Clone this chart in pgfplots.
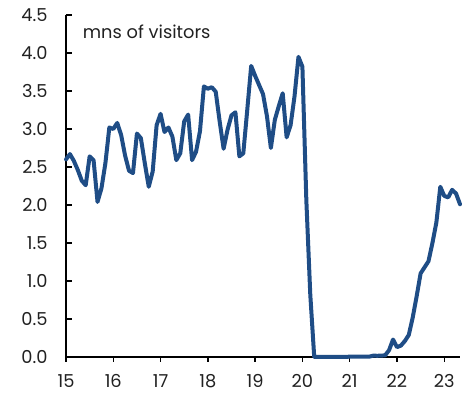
\documentclass[border=0pt]{standalone}
\usepackage{fontspec}
\setmainfont{Poppins}
\usepackage{pgfplots}
\usepackage{pgfplotstable}
\pgfplotsset{compat=1.18}

\definecolor{lineblue}{RGB}{31,77,134}

% Monthly visitor arrivals, millions; m = months since Jan 2015
\pgfplotstableread{
m y
0 2.60
1 2.67
2 2.58
3 2.46
4 2.32
5 2.26
6 2.64
7 2.59
8 2.04
9 2.22
10 2.55
11 3.02
12 3.00
13 3.08
14 2.92
15 2.65
16 2.45
17 2.42
18 2.94
19 2.88
20 2.55
21 2.24
22 2.44
23 3.05
24 3.20
25 2.96
26 3.02
27 2.90
28 2.59
29 2.68
30 3.10
31 3.19
32 2.59
33 2.70
34 2.97
35 3.56
36 3.53
37 3.55
38 3.49
39 3.10
40 2.74
41 2.99
42 3.18
43 3.22
44 2.64
45 2.68
46 3.25
47 3.83
48 3.70
49 3.58
50 3.46
51 3.17
52 2.75
53 3.12
54 3.30
55 3.47
56 2.89
57 3.05
58 3.43
59 3.95
60 3.82
61 2.06
62 0.82
63 0.00
64 0.00
65 0.00
66 0.00
67 0.00
68 0.00
69 0.00
70 0.00
71 0.00
72 0.005
73 0.005
74 0.005
75 0.005
76 0.005
77 0.005
78 0.018
79 0.016
80 0.018
81 0.022
82 0.09
83 0.23
84 0.13
85 0.15
86 0.21
87 0.29
88 0.52
89 0.80
90 1.10
91 1.18
92 1.26
93 1.50
94 1.77
95 2.24
96 2.12
97 2.10
98 2.20
99 2.15
100 2.01
}\visitors

\begin{document}
\begin{tikzpicture}
\useasboundingbox (-66pt,-40pt) rectangle (401pt,357pt);
\begin{axis}[
  scale only axis,
  width=394pt, height=342pt,
  xmin=15, xmax=23.3333,
  ymin=0, ymax=4.5,
  xtick={15,16,...,23},
  ytick={0,0.5,...,4.5},
  axis x line*=bottom,
  axis y line*=left,
  axis line style={-},
  x axis line style={line width=1.5pt},
  y axis line style={line width=2.4pt},
  tick align=inside,
  major tick length=6pt,
  tick style={black, line width=1.4pt},
  x tick style={yshift=-5pt},
  tick label style={font=\fontsize{17.8}{20}\selectfont, text=black!87},
  yticklabel style={anchor=east, xshift=-15pt,
    /pgf/number format/.cd, fixed, fixed zerofill, precision=1},
  xticklabel style={anchor=north, yshift=-14pt,
    /pgf/number format/.cd, int detect},
  /pgf/number format/assume math mode=true,
  clip=false,
]
\addplot[lineblue, line width=4pt, line join=round, line cap=round]
  table[x expr=15+\thisrow{m}/12, y=y] {\visitors};
\node[anchor=base west, inner sep=0pt, font=\fontsize{17.8}{20}\selectfont, text=black!87]
  at (rel axis cs:0.0424,0.932) {mns of visitors};
\end{axis}
\end{tikzpicture}
\end{document}
